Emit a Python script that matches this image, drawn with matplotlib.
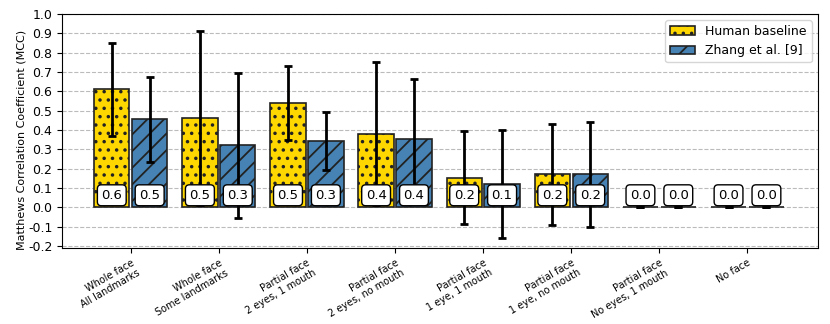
import numpy as np
import matplotlib
matplotlib.use('Agg')
import matplotlib.pyplot as plt

categories = ['Whole face\nAll landmarks', 'Whole face\nSome landmarks',
              'Partial face\n2 eyes, 1 mouth', 'Partial face\n2 eyes, no mouth',
              'Partial face\n1 eye, 1 mouth', 'Partial face\n1 eye, no mouth',
              'Partial face\nNo eyes, 1 mouth', 'No face']
human = [0.61, 0.46, 0.54, 0.38, 0.153, 0.17, 0.0, 0.0]
human_err = [0.24, 0.45, 0.19, 0.37, 0.24, 0.26, 0.0, 0.0]
zhang = [0.455, 0.32, 0.345, 0.355, 0.12, 0.17, 0.0, 0.0]
zhang_err = [0.22, 0.375, 0.15, 0.31, 0.28, 0.27, 0.0, 0.0]

plt.rcParams['hatch.linewidth'] = 1.3
fig = plt.figure(figsize=(8.3, 3.24), dpi=100)
ax = fig.add_axes([0.0747, 0.235, 0.9108, 0.722])

x = np.arange(len(categories))
w = 0.4
off = 0.215
ekw = {'elinewidth': 2, 'capthick': 2}
b1 = ax.bar(x - off, human, w, yerr=human_err, color='#FFD700', edgecolor='#222222',
            linewidth=1.2, hatch='..', capsize=3, error_kw=ekw,
            label='Human baseline', zorder=3)
b2 = ax.bar(x + off, zhang, w, yerr=zhang_err, color='#4682B4', edgecolor='#222222',
            linewidth=1.2, hatch='//', capsize=3, error_kw=ekw,
            label='Zhang et al. [9]', zorder=3)

for xs, vals in ((x - off, human), (x + off, zhang)):
    for xi, v in zip(xs, vals):
        ax.text(xi, 0.062, '%.1f' % v, ha='center', va='center', fontsize=9.5, zorder=5,
                bbox=dict(boxstyle='round,pad=0.3', fc='white', ec='black', lw=1))

ax.set_ylim(-0.21, 1.0)
ax.set_xlim(-0.78, 7.8)
ax.set_yticks(np.arange(-0.2, 1.01, 0.1))
ax.set_yticklabels(['%.1f' % v for v in np.arange(-0.2, 1.01, 0.1)], fontsize=9)
ax.set_xticks(x)
ax.set_xticklabels(categories, rotation=30, ha='right', fontsize=7, rotation_mode='anchor')
ax.set_ylabel('Matthews Correlation Coefficient (MCC)', fontsize=8)
ax.yaxis.set_label_coords(-0.047, 0.46)
ax.yaxis.grid(True, linestyle='--', color='#bbbbbb', linewidth=0.8, zorder=0)
ax.set_axisbelow(True)
ax.legend(loc='upper right', fontsize=9)

fig.savefig('out.png', dpi=100)
